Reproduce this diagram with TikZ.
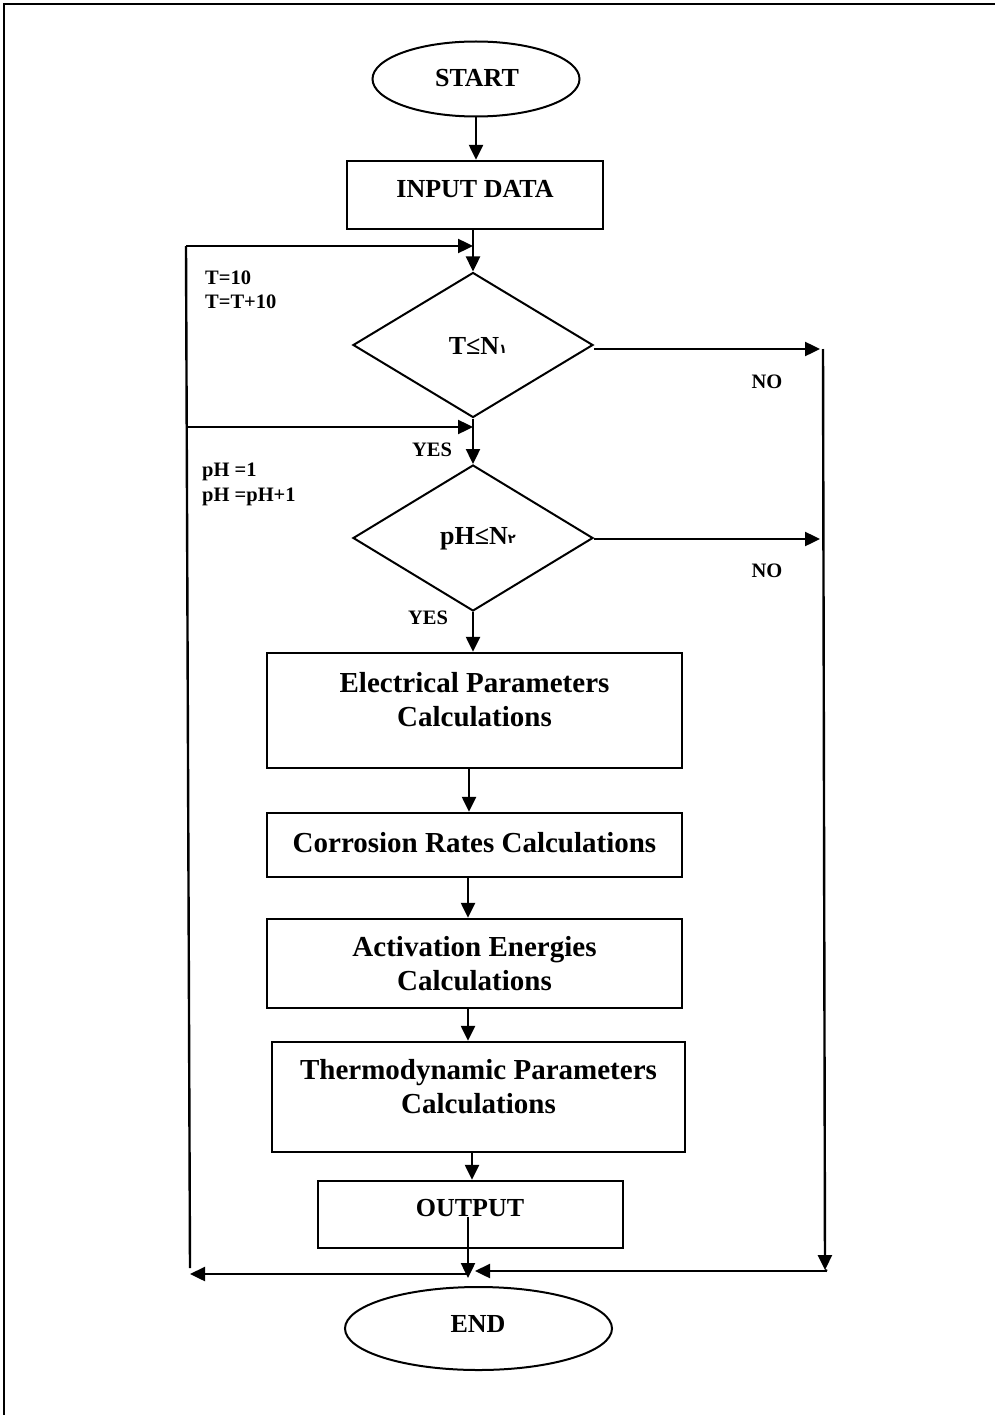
\documentclass[tikz,border=0pt]{standalone}
\usepackage{fontspec}
\setmainfont{Liberation Serif}
\newfontfamily\arabicdig[Script=Arabic]{DejaVu Sans}
\usetikzlibrary{shapes.geometric,arrows.meta}
\tikzset{
  arr/.style={-{Triangle[length=15pt,width=14pt]}, line width=2.4pt},
  ln/.style={line width=2.4pt},
  boxshape/.style={draw, line width=2.4pt, rectangle, inner sep=0pt},
  ovalshape/.style={draw, line width=2pt, ellipse, inner sep=0pt},
  decshape/.style={draw, line width=2pt, diamond, inner sep=0pt},
  bigtxt/.style={font=\fontsize{29}{34}\selectfont\bfseries, align=center, inner sep=0pt},
  midtxt/.style={font=\fontsize{26}{30}\selectfont\bfseries, align=center, inner sep=0pt},
  lbl/.style={font=\fontsize{20.5}{24}\selectfont\bfseries, inner sep=0pt},
}
\begin{document}
\begin{tikzpicture}[x=1pt,y=-1pt]
\useasboundingbox (0,0) rectangle (995,1415);
% frame
\draw[line width=1.5pt] (4,1415) -- (4,4) -- (995,4);

% nodes
\node[ovalshape, minimum width=207pt, minimum height=75pt] (start) at (476,79) {};
\node[midtxt] (starttxt) at (477,78) {START};

\node[boxshape, minimum width=256pt, minimum height=68pt] (input) at (475,195) {};
\node[midtxt] (inputtxt) at (475,189) {INPUT DATA};

\node[decshape, minimum width=240pt, minimum height=145pt] (d1) at (473,345) {};
\node[midtxt] (d1txt) at (478,346) {T≤N\raisebox{1pt}{\arabicdig\fontsize{13}{14}\selectfont ١}};

\node[decshape, minimum width=240pt, minimum height=146pt] (d2) at (473,538) {};
\node[midtxt] (d2txt) at (478,539) {pH≤N\raisebox{1pt}{\arabicdig\fontsize{13}{14}\selectfont ٢}};

\node[boxshape, minimum width=415pt, minimum height=115pt] (b1) at (474.5,710.5) {};
\node[bigtxt] (b1txt) at (474.5,700) {Electrical Parameters\\Calculations};

\node[boxshape, minimum width=415pt, minimum height=64pt] (b2) at (474.5,845) {};
\node[bigtxt] (b2txt) at (474.5,843) {Corrosion Rates Calculations};

\node[boxshape, minimum width=415pt, minimum height=89pt] (b3) at (474.5,963.5) {};
\node[bigtxt] (b3txt) at (474.5,964) {Activation Energies\\Calculations};

\node[boxshape, minimum width=413pt, minimum height=110pt] (b4) at (478.5,1097) {};
\node[bigtxt] (b4txt) at (478.5,1087) {Thermodynamic Parameters\\Calculations};

\node[boxshape, minimum width=305pt, minimum height=67pt] (out) at (470.5,1214.5) {};
\node[midtxt] (outtxt) at (470,1208) {OUTPUT};

\node[ovalshape, minimum width=267pt, minimum height=83pt] (end) at (478.5,1328.5) {};
\node[midtxt] (endtxt) at (478,1324) {END};

% labels
\node[lbl, anchor=west] (t1) at (205,278) {T=10};
\node[lbl, anchor=west] (t2) at (205,302) {T=T+10};
\node[lbl, anchor=west] (p1) at (202,472) {pH =1};
\node[lbl, anchor=west] (p2) at (202,497) {pH =pH+1};
\node[lbl] (yes1) at (432,450) {YES};
\node[lbl] (yes2) at (428,618) {YES};
\node[lbl] (no1) at (767,382) {NO};
\node[lbl] (no2) at (767,571) {NO};

% coordinates
\coordinate (lt1) at (186,246);
\coordinate (lt1e) at (473,246);
\coordinate (lt2) at (186,427);
\coordinate (lt2e) at (473,427);
\coordinate (lbot) at (190,1268);
\coordinate (lbote) at (190,1274);
\coordinate (rt1) at (820,349);
\coordinate (rt2) at (820,539);
\coordinate (rtop) at (823,349);
\coordinate (rbot) at (825,1270);
\coordinate (rbotc) at (827,1271);
\coordinate (jr) at (475,1271);
\coordinate (jo) at (468,1278);
\coordinate (jol) at (468,1274);

% connectors
\draw[arr] (start.south) -- (start.south |- input.north);
\draw[arr] (input.south -| d1.north) -- (d1.north);
\draw[arr] (lt1) -- (lt1e);
\draw[ln] (lt1) -- (lbot);
\draw[arr] (lt2) -- (lt2e);
\draw[arr] (d1.south) -- (d2.north);
\draw[arr] (d1.east |- rt1) -- (rt1);
\draw[arr] (d2.east |- rt2) -- (rt2);
\draw[arr] (rtop) -- (rbot);
\draw[ln] (rbot) -- (rbotc);
\draw[arr] (rbotc) -- (jr);
\draw[arr] (d2.south) -- (d2.south |- b1.north);
\draw[arr] ([xshift=-5.5pt]b1.south) -- ([xshift=-5.5pt]b2.north);
\draw[arr] ([xshift=-6.5pt]b2.south) -- ([xshift=-6.5pt]b3.north);
\draw[arr] ([xshift=-6.5pt]b3.south) -- ([xshift=-10.5pt]b4.north);
\draw[arr] ([xshift=-6.5pt]b4.south) -- ([xshift=1.5pt]out.north);
\draw[arr] (jo |- outtxt.south) -- (jo);
\draw[arr] (jol) -- (lbote);
\end{tikzpicture}
\end{document}
